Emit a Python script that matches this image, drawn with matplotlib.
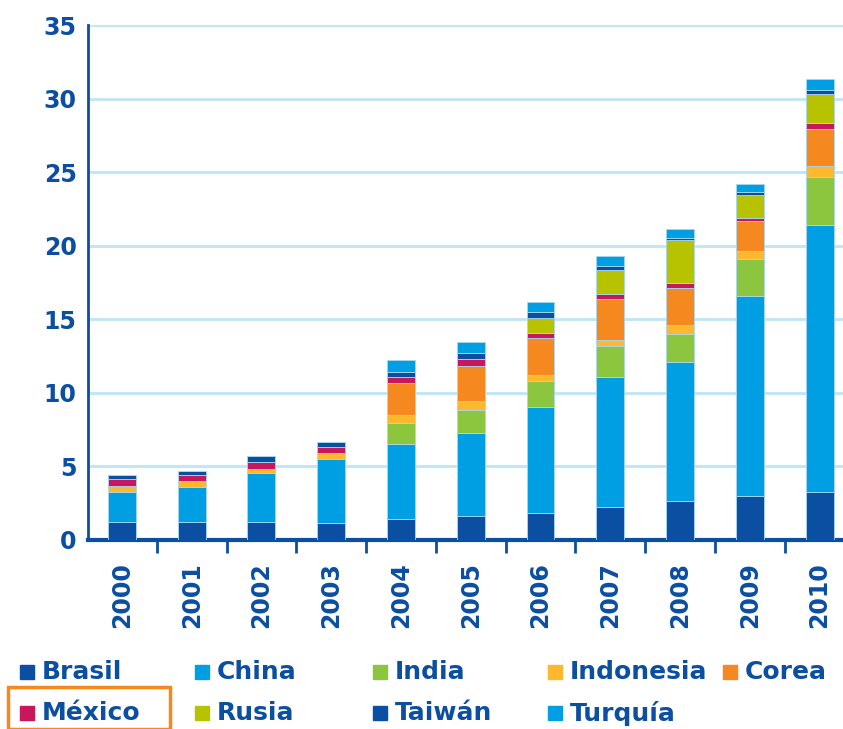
import matplotlib.pyplot as plt
from matplotlib.patches import Rectangle
import numpy as np

# Datos
years = ['2000', '2001', '2002', '2003', '2004', '2005', '2006', '2007', '2008', '2009', '2010']
brasil    = [1.24, 1.24, 1.24, 1.13, 1.40, 1.65, 1.81, 2.26, 2.67, 3.01, 3.28]
china     = [2.04, 2.38, 3.29, 4.37, 5.14, 5.64, 7.24, 8.83, 9.43, 13.60, 18.15]
india     = [0.00, 0.00, 0.00, 0.00, 1.38, 1.51, 1.77, 2.10, 1.88, 2.51, 3.24]
indonesia = [0.39, 0.41, 0.27, 0.43, 0.54, 0.64, 0.38, 0.43, 0.62, 0.52, 0.77]
corea     = [0.00, 0.00, 0.00, 0.00, 2.24, 2.40, 2.53, 2.76, 2.53, 2.02, 2.51]
mexico    = [0.49, 0.38, 0.50, 0.36, 0.37, 0.49, 0.34, 0.34, 0.34, 0.23, 0.38]
rusia     = [0.00, 0.00, 0.00, 0.00, 0.00, 0.00, 1.05, 1.66, 2.94, 1.53, 2.00]
taiwan    = [0.25, 0.25, 0.38, 0.38, 0.36, 0.39, 0.38, 0.27, 0.14, 0.23, 0.27]
turquia   = [0.00, 0.00, 0.00, 0.00, 0.79, 0.74, 0.64, 0.63, 0.61, 0.52, 0.74]

series = [
    ('Brasil', brasil, '#0b4fa3'),
    ('China', china, '#009fe3'),
    ('India', india, '#8cc63f'),
    ('Indonesia', indonesia, '#fdb92e'),
    ('Corea', corea, '#f5891f'),
    ('México', mexico, '#c8175d'),
    ('Rusia', rusia, '#b8c300'),
    ('Taiwán', taiwan, '#0b4fa3'),
    ('Turquía', turquia, '#009fe3'),
]

azul = '#0b4ea2'

fig = plt.figure(figsize=(8.43, 7.29), dpi=100)
ax = fig.add_axes([0.104, 0.2593, 0.8955, 0.7064])

x = np.arange(len(years))
bottom = np.zeros(len(years))
for name, vals, col in series:
    vals = np.array(vals)
    ax.bar(x, vals, width=0.4, bottom=bottom, color=col,
           edgecolor='#a8d8f0', linewidth=0.6, zorder=3)
    bottom += vals

ax.set_xlim(-0.49, 10.33)
ax.set_ylim(0, 35)
ax.set_yticks(range(0, 36, 5))
ax.yaxis.grid(True, color='#bfe6f7', linewidth=2, zorder=0)

ax.set_xticks(x)
ax.set_xticklabels(years, rotation=90, fontsize=17, fontweight='bold', color=azul)
ax.set_xticks(np.arange(0.5, 10.5, 1), minor=True)
ax.tick_params(axis='x', which='major', length=0, pad=16)
ax.tick_params(axis='x', which='minor', length=9, width=2, color=azul, direction='out')
ax.tick_params(axis='y', length=0, pad=8, labelsize=17, labelcolor=azul)
for lab in ax.get_yticklabels():
    lab.set_fontweight('bold')

for s in ['top', 'right']:
    ax.spines[s].set_visible(False)
ax.spines['left'].set_color(azul)
ax.spines['left'].set_linewidth(2)
ax.spines['bottom'].set_color(azul)
ax.spines['bottom'].set_linewidth(3)

# Leyenda manual
col_x = [20, 195, 373, 548, 723]
row_y = [672, 713]
for i, (name, vals, col) in enumerate(series):
    r, c = divmod(i, 5)
    px, py = col_x[c], row_y[r]
    fig.patches.append(Rectangle((px / 843, 1 - (py + 7) / 729), 14 / 843, 14 / 729,
                                 transform=fig.transFigure, color=col))
    fig.text((px + 22) / 843, 1 - py / 729, name, fontsize=18, fontweight='bold',
             color=azul, va='center', ha='left')

# Recuadro naranja alrededor de México
fig.patches.append(Rectangle((8 / 843, 0), 162 / 843, 42 / 729, transform=fig.transFigure,
                             fill=False, edgecolor='#f5891f', linewidth=2.5))

fig.savefig('out.png', dpi=100)
